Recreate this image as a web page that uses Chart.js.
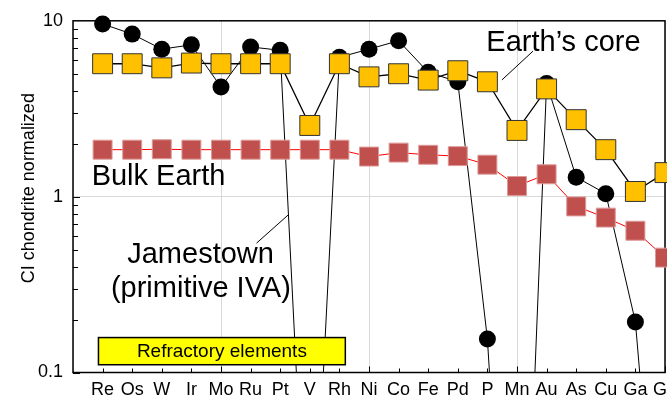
<!DOCTYPE html>
<html>
<head>
<meta charset="utf-8">
<script src="https://cdn.jsdelivr.net/npm/chart.js@4"></script>
<style>
  html, body { margin: 0; padding: 0; background: #fff; }
</style>
</head>
<body>
<canvas id="chart" width="667" height="399"></canvas>
<script>
// Elements in the order of the x axis (last one is cut off at the right edge)
const elements = ['Re', 'Os', 'W', 'Ir', 'Mo', 'Ru', 'Pt', 'V', 'Rh', 'Ni', 'Co', 'Fe', 'Pd', 'P', 'Mn', 'Au', 'As', 'Cu', 'Ga', 'Ge'];

// CI chondrite normalized abundances
const jamestown = [9.6, 8.4, 6.9, 7.3, 4.2, 7.1, 6.8, 0.003, 6.2, 6.9, 7.7, 5.1, 4.5, 0.155, 0.0003, 4.4, 1.29, 1.04, 0.194, 0.002];
const earthCore = [5.7, 5.7, 5.4, 5.75, 5.7, 5.7, 5.7, 2.54, 5.7, 4.8, 5.0, 4.6, 5.2, 4.5, 2.38, 4.1, 2.74, 1.85, 1.07, 1.37];
const bulkEarth = [1.85, 1.85, 1.86, 1.85, 1.85, 1.85, 1.85, 1.85, 1.85, 1.69, 1.78, 1.73, 1.70, 1.52, 1.15, 1.34, 0.88, 0.76, 0.64, 0.45];

const FONT = "'Liberation Sans', Arial, sans-serif";
Chart.defaults.font.family = FONT;
Chart.defaults.color = '#000';

const toPoints = arr => arr.map((v, i) => ({ x: i, y: v }));
const isDecade = v => Math.abs(Math.log10(v) - Math.round(Math.log10(v))) < 1e-6;

// Frame, inward tick marks and axis title (under the data)
const frame = {
    id: 'frame',
    beforeDatasetsDraw(chart) {
        const { ctx, chartArea: a, scales: { x, y } } = chart;
        ctx.save();
        ctx.strokeStyle = '#000';
        ctx.lineWidth = 1.5;
        ctx.strokeRect(a.left, a.top, a.right - a.left, a.bottom - a.top);

        ctx.lineWidth = 1;
        ctx.beginPath();
        elements.forEach((_, i) => {
            const px = Math.round(x.getPixelForValue(i)) + 0.5;
            const len = (i + 1) % 5 === 0 ? 6 : 4;
            ctx.moveTo(px, a.bottom);
            ctx.lineTo(px, a.bottom - len);
        });
        [0.1, 1].forEach(decade => {
            for (let m = 1; m <= 9; m++) {
                const py = Math.round(y.getPixelForValue(m * decade)) + 0.5;
                const len = m === 1 ? 7 : 5;
                ctx.moveTo(a.left, py);
                ctx.lineTo(a.left + len, py);
            }
        });
        ctx.stroke();

        ctx.translate(a.left - 43.5, (a.top + a.bottom) / 2 - 8.5);
        ctx.rotate(-Math.PI / 2);
        ctx.font = `18px ${FONT}`;
        ctx.fillStyle = '#000';
        ctx.textAlign = 'center';
        ctx.textBaseline = 'middle';
        ctx.fillText('CI chondrite normalized', 0, 0);
        ctx.restore();
    }
};

// Labels, leader lines and the "Refractory elements" box (over the data)
const notes = {
    id: 'notes',
    afterDatasetsDraw(chart) {
        const { ctx, scales: { x, y } } = chart;
        const X = v => x.getPixelForValue(v);
        const Y = v => y.getPixelForValue(v);
        ctx.save();

        ctx.strokeStyle = '#000';
        ctx.lineWidth = 1;
        ctx.beginPath();
        ctx.moveTo(X(13.49), Y(4.61));
        ctx.lineTo(X(14.54), Y(6.72));
        ctx.moveTo(X(5.2), Y(0.544));
        ctx.lineTo(X(6.27), Y(0.787));
        ctx.stroke();

        ctx.fillStyle = '#000';
        ctx.textAlign = 'center';
        ctx.textBaseline = 'alphabetic';
        ctx.font = `29px ${FONT}`;
        ctx.fillText('Earth\u2019s core', X(15.57), Y(6.72));
        ctx.fillText('Bulk Earth', X(1.89), Y(1.16));
        ctx.fillText('Jamestown', X(3.31), Y(0.421));
        ctx.fillText('(primitive IVA)', X(3.32), Y(0.270));

        const bx0 = X(-0.14), bx1 = X(8.2), by0 = Y(0.158), by1 = Y(0.1107);
        ctx.fillStyle = '#FFFF00';
        ctx.fillRect(bx0, by0, bx1 - bx0, by1 - by0);
        ctx.lineWidth = 1.5;
        ctx.strokeRect(bx0, by0, bx1 - bx0, by1 - by0);
        ctx.fillStyle = '#000';
        ctx.font = `19px ${FONT}`;
        ctx.textBaseline = 'middle';
        ctx.fillText('Refractory elements', (bx0 + bx1) / 2, (by0 + by1) / 2 + 1);
        ctx.restore();
    }
};

new Chart(document.getElementById('chart'), {
    type: 'line',
    data: {
        datasets: [
            {
                label: 'Earth\u2019s core',
                data: toPoints(earthCore),
                order: 0,
                borderColor: '#000',
                borderWidth: 1.3,
                pointStyle: 'rect',
                pointRadius: 14.1,
                pointBackgroundColor: '#FFC000',
                pointBorderColor: '#333',
                pointBorderWidth: 1,
                tension: 0
            },
            {
                label: 'Bulk Earth',
                data: toPoints(bulkEarth),
                order: 1,
                borderColor: '#FF0000',
                borderWidth: 1,
                pointStyle: 'rect',
                pointRadius: 13.4,
                pointBackgroundColor: '#C0504D',
                pointBorderColor: '#dc9a98',
                pointBorderWidth: 1,
                tension: 0
            },
            {
                label: 'Jamestown',
                data: toPoints(jamestown),
                order: 2,
                borderColor: '#000',
                borderWidth: 1,
                pointStyle: 'circle',
                pointRadius: 8.5,
                pointBackgroundColor: '#000',
                pointBorderColor: '#000',
                pointBorderWidth: 0,
                tension: 0
            }
        ]
    },
    options: {
        responsive: false,
        animation: false,
        devicePixelRatio: 1,
        clip: { left: false, top: false, right: false, bottom: 0 },
        layout: { autoPadding: false, padding: { top: 19.5, right: 2, left: 0, bottom: 0 } },
        plugins: {
            legend: { display: false },
            tooltip: { enabled: false }
        },
        scales: {
            x: {
                type: 'linear',
                min: -1,
                max: 19,
                border: { display: false },
                grid: {
                    drawTicks: false,
                    color: ctx => (ctx.tick.value + 1) % 5 === 0 ? '#d9d9d9' : 'rgba(0,0,0,0)'
                },
                ticks: {
                    stepSize: 1,
                    autoSkip: false,
                    maxRotation: 0,
                    padding: 7,
                    font: { size: 18 },
                    color: '#000',
                    callback: v => elements[v] ?? ''
                },
                afterFit: s => { s.height = 26.5; s.paddingLeft = 0; s.paddingRight = 0; }
            },
            y: {
                type: 'logarithmic',
                min: 0.1,
                max: 10,
                border: { display: false },
                grid: {
                    drawTicks: false,
                    color: ctx => ctx.tick.value === 1 ? '#d9d9d9' : 'rgba(0,0,0,0)'
                },
                ticks: {
                    autoSkip: false,
                    padding: 10,
                    font: { size: 18 },
                    color: '#000',
                    callback: v => isDecade(v) ? String(v) : ''
                },
                afterFit: s => { s.width = 73; }
            }
        }
    },
    plugins: [frame, notes]
});
</script>
</body>
</html>
